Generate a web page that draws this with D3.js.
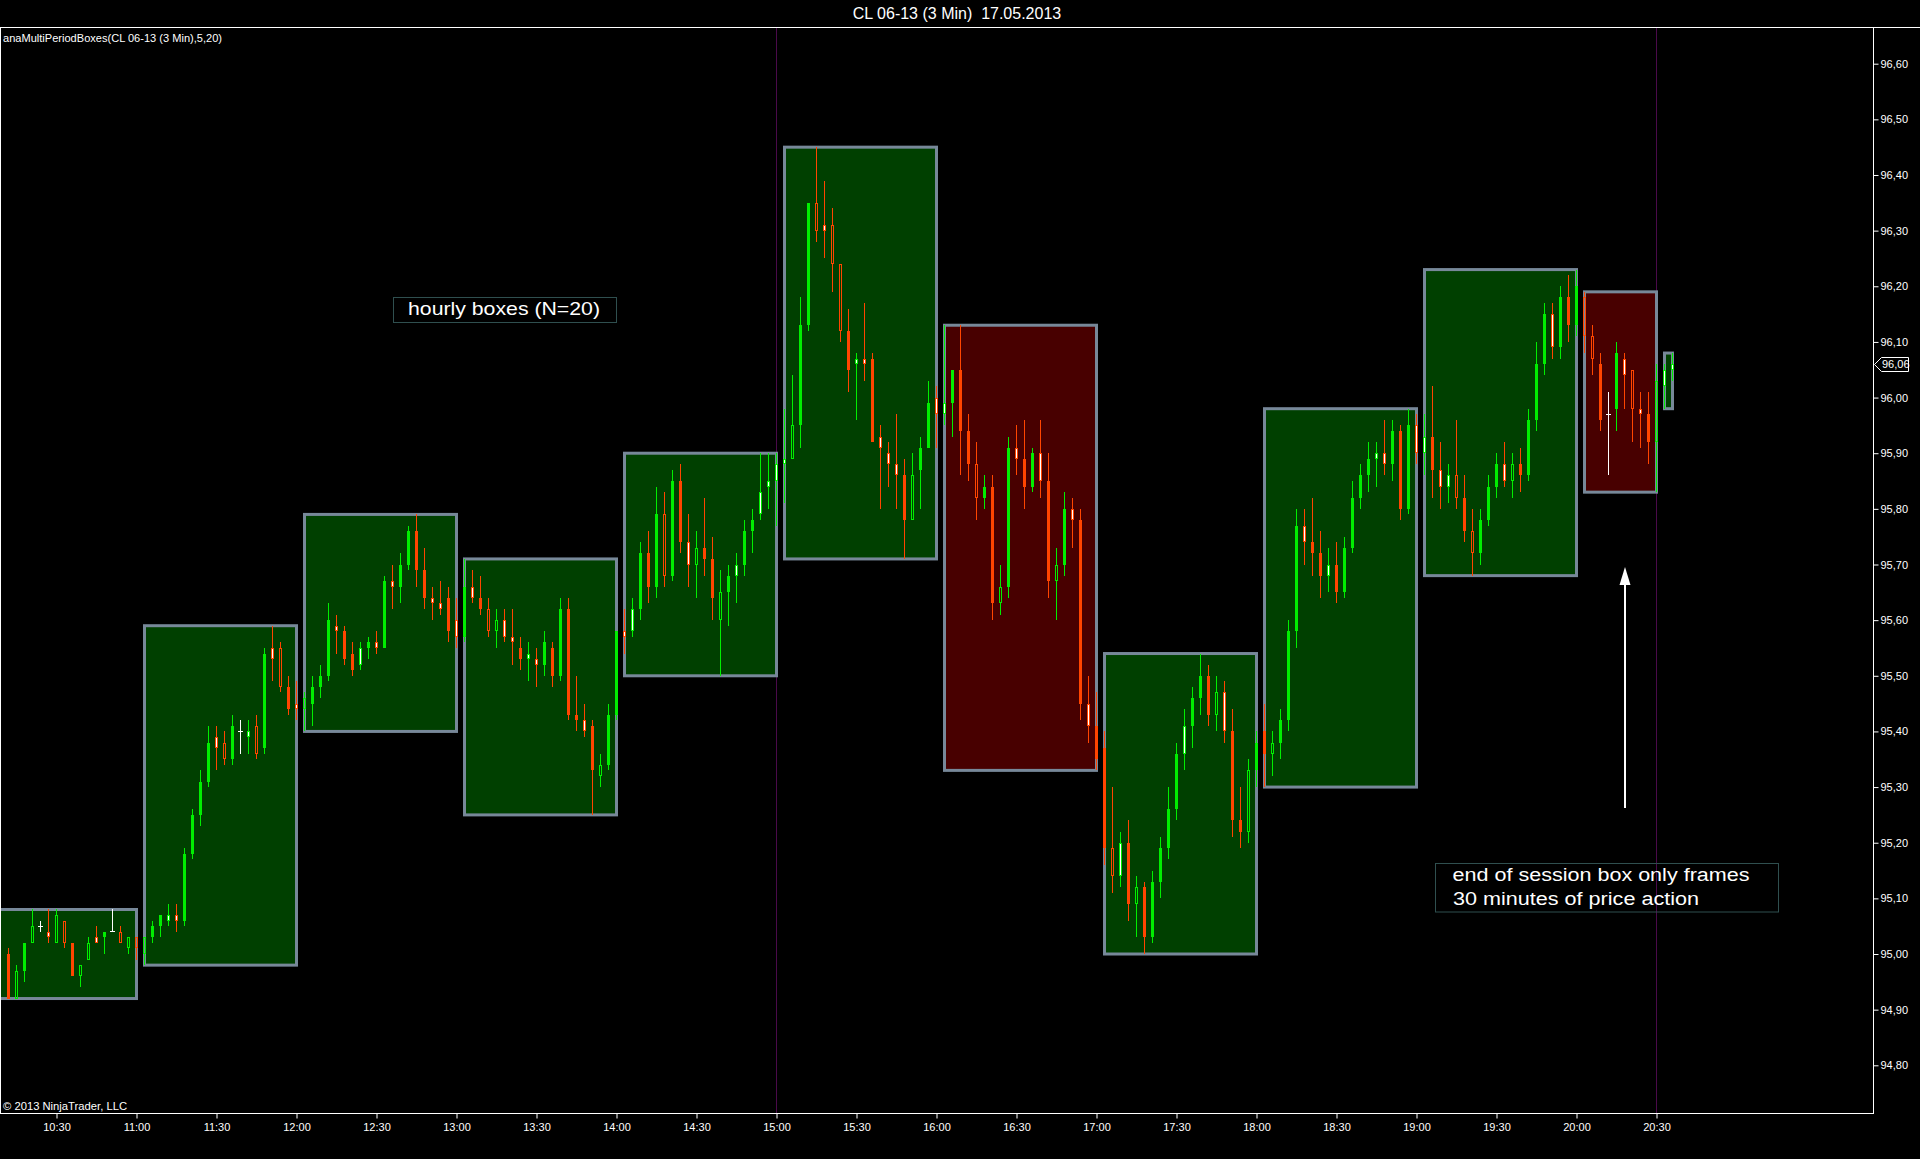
<!DOCTYPE html>
<html><head><meta charset="utf-8">
<script src="https://cdn.jsdelivr.net/npm/d3@7"></script>
<style>html,body{margin:0;padding:0;background:#000;overflow:hidden}text{font-family:"Liberation Sans",Arial,sans-serif;white-space:pre}</style>
</head><body>
<svg id="c" width="1920" height="1159"></svg>
<script>
// ---------------- data ----------------
const chartTitle = "CL 06-13 (3 Min)  17.05.2013";
const indicatorLabel = "anaMultiPeriodBoxes(CL 06-13 (3 Min),5,20)";
const copyrightText = "\u00a9 2013 NinjaTrader, LLC";
const noteHourly = "hourly boxes (N=20)";
const noteSession = ["end of session box only frames", "30 minutes of price action"];
const firstBarTime = "10:12";
const sessionBreaks = ["15:00", "20:30"];
const timeTicks = ["10:30","11:00","11:30","12:00","12:30","13:00","13:30","14:00","14:30","15:00","15:30","16:00","16:30","17:00","17:30","18:00","18:30","19:00","19:30","20:00","20:30"];
const priceTicks = [94.80,94.90,95.00,95.10,95.20,95.30,95.40,95.50,95.60,95.70,95.80,95.90,96.00,96.10,96.20,96.30,96.40,96.50,96.60];
const lastPrice = 96.06;

// [open, high, low, close] per 3-minute bar; kinds: F filled, H hollow, W white body, D doji
const bars10 = [[95.00,95.01,94.92,94.92],[94.92,94.98,94.92,94.97],[94.97,95.02,94.95,95.02],[95.02,95.08,95.02,95.05],[95.05,95.06,95.04,95.05],[95.04,95.08,95.02,95.03],[95.02,95.08,95.02,95.07],[95.06,95.06,95.01,95.02],[95.02,95.02,94.96,94.96],[94.96,94.98,94.94,94.98],[94.99,95.03,94.99,95.02],[95.03,95.05,95.02,95.02],[95.03,95.04,95.00,95.04],[95.04,95.08,95.04,95.04],[95.04,95.05,95.02,95.02],[95.01,95.03,95.00,95.03],[95.03,95.03,94.99,95.01]];
const kinds10 = "FHFHDWHHFHHWFDHHH";
const bars11 = [[95.00,95.03,94.98,95.03],[95.03,95.06,95.02,95.05],[95.05,95.07,95.03,95.07],[95.06,95.09,95.05,95.07],[95.07,95.09,95.04,95.06],[95.06,95.19,95.05,95.18],[95.18,95.26,95.17,95.25],[95.25,95.33,95.23,95.31],[95.31,95.41,95.30,95.38],[95.39,95.41,95.33,95.37],[95.38,95.40,95.34,95.35],[95.35,95.43,95.34,95.41],[95.40,95.42,95.36,95.40],[95.39,95.42,95.36,95.40],[95.41,95.43,95.35,95.36],[95.37,95.55,95.36,95.54],[95.55,95.59,95.49,95.53],[95.55,95.56,95.47,95.48],[95.48,95.50,95.43,95.44],[95.45,95.49,95.42,95.44]];
const kinds11 = "HFFWWFFFFWHFDWHFWHFW";
const bars12 = [[95.44,95.47,95.40,95.46],[95.45,95.50,95.41,95.48],[95.48,95.52,95.46,95.50],[95.50,95.63,95.49,95.60],[95.59,95.61,95.54,95.58],[95.58,95.59,95.52,95.53],[95.54,95.56,95.50,95.51],[95.52,95.56,95.51,95.55],[95.55,95.57,95.53,95.56],[95.56,95.58,95.54,95.55],[95.55,95.68,95.55,95.67],[95.67,95.70,95.62,95.66],[95.66,95.72,95.63,95.70],[95.70,95.77,95.69,95.76],[95.76,95.79,95.66,95.69],[95.69,95.73,95.62,95.64],[95.64,95.66,95.60,95.63],[95.63,95.67,95.61,95.62],[95.64,95.66,95.56,95.58],[95.60,95.64,95.55,95.57]];
const kinds12 = "HFFFWFFWFWFWFFFFWWFW";
const bars13 = [[95.57,95.71,95.56,95.66],[95.66,95.69,95.63,95.64],[95.64,95.68,95.61,95.62],[95.62,95.64,95.57,95.58],[95.58,95.62,95.55,95.60],[95.60,95.62,95.56,95.57],[95.57,95.62,95.52,95.56],[95.55,95.57,95.51,95.53],[95.53,95.56,95.49,95.54],[95.53,95.55,95.48,95.52],[95.52,95.58,95.50,95.56],[95.55,95.56,95.48,95.50],[95.50,95.64,95.49,95.62],[95.62,95.64,95.42,95.43],[95.43,95.50,95.40,95.42],[95.42,95.45,95.39,95.40],[95.41,95.42,95.25,95.33],[95.32,95.36,95.30,95.34],[95.34,95.45,95.33,95.43],[95.43,95.58,95.42,95.58]];
const kinds13 = "FWFHHWWFWWFFFFFWFHFF";
const bars14 = [[95.58,95.62,95.54,95.57],[95.58,95.64,95.57,95.62],[95.62,95.74,95.60,95.72],[95.72,95.76,95.63,95.66],[95.66,95.84,95.64,95.79],[95.79,95.83,95.66,95.68],[95.68,95.87,95.67,95.85],[95.85,95.88,95.72,95.74],[95.74,95.79,95.66,95.70],[95.70,95.76,95.64,95.73],[95.73,95.82,95.68,95.71],[95.71,95.75,95.60,95.64],[95.60,95.69,95.50,95.65],[95.65,95.70,95.59,95.68],[95.68,95.72,95.63,95.70],[95.70,95.78,95.68,95.76],[95.76,95.80,95.72,95.78],[95.79,95.90,95.78,95.83],[95.84,95.90,95.80,95.85],[95.85,95.90,95.77,95.88]];
const kinds14 = "WWFFFHFFWHFFHFWFFWWW";
const bars15 = [[95.88,95.98,95.81,95.89],[95.89,96.04,95.89,95.95],[95.95,96.18,95.91,96.13],[96.13,96.35,96.12,96.35],[96.35,96.45,96.28,96.30],[96.31,96.39,96.25,96.30],[96.31,96.34,96.19,96.24],[96.24,96.24,96.10,96.12],[96.12,96.16,96.01,96.05],[96.06,96.08,95.96,96.07],[96.07,96.17,96.03,96.06],[96.07,96.08,95.92,95.92],[95.93,95.95,95.80,95.91],[95.90,95.92,95.84,95.88],[95.88,95.97,95.80,95.86],[95.86,95.89,95.71,95.78],[95.78,95.90,95.78,95.86],[95.87,95.93,95.80,95.91],[95.91,96.03,95.91,95.99],[96.00,96.02,95.91,95.97]];
const kinds15 = "WHFFHWHHFWWFWWWFHFFW";
const bars16 = [[95.97,96.13,95.95,95.99],[95.99,96.05,95.93,96.05],[96.05,96.13,95.86,95.94],[95.94,95.97,95.85,95.88],[95.88,95.92,95.78,95.82],[95.82,95.86,95.80,95.84],[95.84,95.86,95.60,95.63],[95.63,95.70,95.61,95.66],[95.66,95.93,95.64,95.91],[95.91,95.95,95.86,95.89],[95.89,95.96,95.80,95.84],[95.84,95.91,95.83,95.90],[95.90,95.96,95.82,95.85],[95.85,95.90,95.64,95.67],[95.67,95.73,95.60,95.70],[95.70,95.83,95.68,95.80],[95.80,95.82,95.73,95.78],[95.78,95.80,95.42,95.45],[95.45,95.50,95.38,95.41],[95.41,95.47,95.33,95.35]];
const kinds16 = "WFFFHFFHFWFFWFHFWFWF";
const bars17 = [[95.37,95.40,95.16,95.19],[95.19,95.30,95.11,95.14],[95.14,95.22,95.12,95.20],[95.20,95.24,95.06,95.09],[95.09,95.14,95.03,95.12],[95.12,95.13,95.00,95.03],[95.03,95.15,95.02,95.13],[95.13,95.21,95.10,95.19],[95.19,95.30,95.17,95.26],[95.26,95.38,95.24,95.36],[95.36,95.44,95.33,95.41],[95.41,95.48,95.37,95.46],[95.46,95.54,95.43,95.50],[95.50,95.52,95.41,95.43],[95.43,95.50,95.40,95.47],[95.47,95.49,95.38,95.40],[95.40,95.44,95.21,95.24],[95.24,95.30,95.19,95.22],[95.22,95.35,95.20,95.33],[95.33,95.40,95.30,95.38]];
const kinds17 = "FHWFHFFFFFWFFFHWFFHF";
const bars18 = [[95.40,95.45,95.30,95.36],[95.36,95.40,95.32,95.38],[95.38,95.44,95.35,95.42],[95.42,95.60,95.40,95.58],[95.58,95.80,95.55,95.77],[95.77,95.80,95.70,95.74],[95.74,95.82,95.68,95.72],[95.72,95.76,95.64,95.68],[95.68,95.73,95.65,95.70],[95.70,95.74,95.63,95.65],[95.65,95.75,95.64,95.73],[95.73,95.85,95.72,95.82],[95.82,95.88,95.80,95.86],[95.86,95.92,95.83,95.89],[95.89,95.92,95.84,95.90],[95.90,95.96,95.86,95.88],[95.88,95.96,95.85,95.94],[95.94,95.95,95.78,95.80],[95.80,95.98,95.79,95.95],[95.95,95.97,95.88,95.90]];
const kinds18 = "FHFFFWFFWFFFFFWWFFFW";
const bars19 = [[95.90,95.97,95.86,95.93],[95.93,96.02,95.82,95.87],[95.87,95.92,95.80,95.84],[95.84,95.88,95.81,95.86],[95.86,95.96,95.80,95.82],[95.82,95.86,95.74,95.76],[95.76,95.80,95.68,95.72],[95.72,95.80,95.70,95.78],[95.78,95.86,95.77,95.84],[95.84,95.90,95.82,95.88],[95.88,95.92,95.84,95.85],[95.85,95.90,95.82,95.88],[95.88,95.91,95.83,95.86],[95.86,95.98,95.85,95.96],[95.96,96.10,95.94,96.06],[96.06,96.17,96.04,96.15],[96.15,96.17,96.07,96.09],[96.09,96.20,96.07,96.18],[96.18,96.22,96.10,96.13],[96.13,96.23,96.11,96.20]];
const kinds19 = "WFWWHFHFFFWHFFFFWFFF";
const bars20 = [[96.18,96.19,96.08,96.11],[96.11,96.13,96.04,96.07],[96.06,96.08,95.94,95.96],[95.97,96.01,95.86,95.97],[95.98,96.10,95.94,96.08],[96.07,96.08,95.98,96.04],[96.05,96.05,95.92,95.98],[95.98,96.01,95.91,95.97],[95.97,96.01,95.88,95.92],[95.92,96.06,95.83,96.03],[96.02,96.06,95.98,96.05],[96.05,96.08,96.03,96.06]];
const kinds20 = "HHFDFWHWFHWW";

// ---------------- build ----------------
const rows = [].concat(bars10,bars11,bars12,bars13,bars14,bars15,bars16,bars17,bars18,bars19,bars20);
const kinds = (kinds10+kinds11+kinds12+kinds13+kinds14+kinds15+kinds16+kinds17+kinds18+kinds19+kinds20).split("");
const toMin = s => { const [h, m] = s.split(":").map(Number); return h * 60 + m; };
const t0 = toMin(firstBarTime);
const breaks = sessionBreaks.map(toMin);
const bars = rows.map((r, i) => {
  const m = t0 + 3 * i;
  const s = breaks.filter(b => b < m).length;
  const hr = Math.floor((m - 1) / 60);
  return {m, o: r[0], h: r[1], l: r[2], c: r[3], k: kinds[i], s, hr, key: s + "-" + hr};
});
const groups = d3.groups(bars, b => b.key).map(([key, arr]) => {
  const s = arr[0].s, hr = arr[0].hr;
  let start = hr * 60 + 3;
  if (s > 0) start = Math.max(start, breaks[s - 1] + 3);
  return {start, end: arr[arr.length - 1].m,
          hi: d3.max(arr, b => b.h), lo: d3.min(arr, b => b.l),
          up: arr[arr.length - 1].c >= arr[0].o};
});

const W = 1920, H = 1159;
const plot = {left: 0, right: 1873, top: 27, bottom: 1113};
const x = d3.scaleLinear().domain([toMin("10:30"), toMin("20:30")]).range([56.5, 1656.5]);
const y = d3.scaleLinear().domain([94.80, 96.60]).range([1065.3, 63.7]);

const UP = "#00ee00", DN = "#ff4500", WH = "#ffffff";
const FONT = '"Liberation Sans", Arial, sans-serif';

const svg = d3.select("#c");
svg.append("rect").attr("width", W).attr("height", H).attr("fill", "#000");

svg.append("defs").append("clipPath").attr("id", "pc").append("rect")
  .attr("x", plot.left).attr("y", plot.top).attr("width", plot.right - plot.left).attr("height", plot.bottom - plot.top);

const g = svg.append("g").attr("clip-path", "url(#pc)");

// session break lines
g.selectAll("line.sb").data(breaks).join("line")
  .attr("x1", d => x(d)).attr("x2", d => x(d)).attr("y1", plot.top).attr("y2", plot.bottom)
  .attr("stroke", "#4a0a4a").attr("stroke-width", 1);

// hourly boxes
g.selectAll("rect.box").data(groups).join("rect")
  .attr("x", d => x(d.start)).attr("y", d => y(d.hi))
  .attr("width", d => x(d.end) - x(d.start)).attr("height", d => y(d.lo) - y(d.hi))
  .attr("fill", d => d.up ? "#004000" : "#480000")
  .attr("stroke", "#778899").attr("stroke-width", 3);

// candles
const cg = g.append("g").attr("shape-rendering", "crispEdges");
bars.forEach(b => {
  const cx = x(b.m);
  const col = b.k === "D" ? WH : (b.c >= b.o ? UP : DN);
  const top = y(Math.max(b.o, b.c)), bot = y(Math.min(b.o, b.c));
  if (b.k === "D") {
    cg.append("line").attr("x1", cx).attr("x2", cx).attr("y1", y(b.h)).attr("y2", y(b.l)).attr("stroke", col);
    cg.append("line").attr("x1", cx - 2.5).attr("x2", cx + 2.5).attr("y1", y(b.o)).attr("y2", y(b.o)).attr("stroke", col);
    return;
  }
  cg.append("line").attr("x1", cx).attr("x2", cx).attr("y1", y(b.h)).attr("y2", top).attr("stroke", col);
  cg.append("line").attr("x1", cx).attr("x2", cx).attr("y1", bot).attr("y2", y(b.l)).attr("stroke", col);
  const h = Math.max(2, bot - top);
  if (b.k === "F") {
    cg.append("rect").attr("x", cx - 1.5).attr("y", top).attr("width", 3).attr("height", h).attr("fill", col);
  } else {
    cg.append("rect").attr("x", cx - 1).attr("y", top + 0.5).attr("width", 2).attr("height", Math.max(1, h - 1))
      .attr("fill", b.k === "W" ? WH : "none").attr("stroke", col).attr("stroke-width", 1);
  }
});

// frame / axes
svg.append("line").attr("x1", 0).attr("x2", W).attr("y1", 27.5).attr("y2", 27.5).attr("stroke", "#fff");
svg.append("line").attr("x1", 0.5).attr("x2", 0.5).attr("y1", 27).attr("y2", plot.bottom).attr("stroke", "#fff");

const xAxis = d3.axisBottom(x).tickValues(timeTicks.map(toMin))
  .tickFormat((d, i) => timeTicks[i]).tickSize(5).tickSizeOuter(0);
const xa = svg.append("g").attr("transform", `translate(0,${plot.bottom + 0.5})`).call(xAxis);
xa.select(".domain").remove();
xa.selectAll("line").attr("stroke", "#fff");
xa.selectAll("text").attr("fill", "#fff").attr("font-size", 11).attr("font-family", FONT).attr("dy", "0.9em");
svg.append("line").attr("x1", 0).attr("x2", plot.right + 0.5).attr("y1", plot.bottom + 0.5).attr("y2", plot.bottom + 0.5).attr("stroke", "#fff");

const yAxis = d3.axisRight(y).tickValues(priceTicks)
  .tickFormat(d => d3.format(".2f")(d).replace(".", ",")).tickSize(5).tickSizeOuter(0);
const ya = svg.append("g").attr("transform", `translate(${plot.right + 0.5},0)`).call(yAxis);
ya.select(".domain").remove();
ya.selectAll("line").attr("stroke", "#fff");
ya.selectAll("text").attr("fill", "#fff").attr("font-size", 11).attr("font-family", FONT).attr("x", 7);
svg.append("line").attr("x1", plot.right + 0.5).attr("x2", plot.right + 0.5).attr("y1", 27).attr("y2", plot.bottom + 1).attr("stroke", "#fff");

// last price marker
const ly = Math.round(y(lastPrice)) + 0.5;
svg.append("path")
  .attr("d", `M${plot.right + 1.5},${ly} L${plot.right + 8.5},${ly - 7} L${plot.right + 35.5},${ly - 7} L${plot.right + 35.5},${ly + 7} L${plot.right + 8.5},${ly + 7} Z`)
  .attr("fill", "#000").attr("stroke", "#fff").attr("stroke-width", 1);
svg.append("text").attr("x", plot.right + 9).attr("y", ly).attr("dy", "0.35em")
  .attr("fill", "#fff").attr("font-size", 11).attr("font-family", FONT)
  .text(d3.format(".2f")(lastPrice).replace(".", ","));

// texts
svg.append("text").attr("x", 957).attr("y", 19).attr("text-anchor", "middle")
  .attr("fill", "#fff").attr("font-size", 16).attr("font-family", FONT).text(chartTitle);
svg.append("text").attr("x", 3).attr("y", 42).attr("fill", "#fff").attr("font-size", 11)
  .attr("font-family", FONT).attr("textLength", 219).attr("lengthAdjust", "spacingAndGlyphs").text(indicatorLabel);
svg.append("text").attr("x", 3).attr("y", 1110).attr("fill", "#fff").attr("font-size", 11)
  .attr("font-family", FONT).attr("textLength", 124).attr("lengthAdjust", "spacingAndGlyphs").text(copyrightText);

// annotations
svg.append("rect").attr("x", 393.5).attr("y", 297.5).attr("width", 223).attr("height", 25)
  .attr("fill", "none").attr("stroke", "#2f4f4f");
svg.append("text").attr("x", 408).attr("y", 314.5).attr("fill", "#fff").attr("font-size", 19)
  .attr("font-family", FONT).attr("textLength", 192).attr("lengthAdjust", "spacingAndGlyphs").text(noteHourly);

svg.append("rect").attr("x", 1435.5).attr("y", 863.5).attr("width", 343).attr("height", 48.5)
  .attr("fill", "none").attr("stroke", "#2f4f4f");
svg.append("text").attr("x", 1452.5).attr("y", 881).attr("fill", "#fff").attr("font-size", 18)
  .attr("font-family", FONT).attr("textLength", 297).attr("lengthAdjust", "spacingAndGlyphs").text(noteSession[0]);
svg.append("text").attr("x", 1453).attr("y", 904.5).attr("fill", "#fff").attr("font-size", 18)
  .attr("font-family", FONT).attr("textLength", 246).attr("lengthAdjust", "spacingAndGlyphs").text(noteSession[1]);

// arrow
svg.append("line").attr("x1", 1625).attr("x2", 1625).attr("y1", 808).attr("y2", 580)
  .attr("stroke", "#fff").attr("stroke-width", 2);
svg.append("path").attr("d", "M1625,567 L1619.5,585 L1630.5,585 Z").attr("fill", "#fff");
</script>
</body></html>
